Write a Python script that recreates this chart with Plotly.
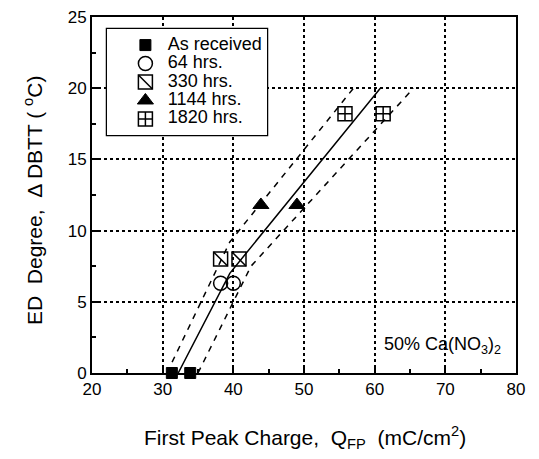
import plotly.graph_objects as go

# Data
as_x = [31.3, 33.9]; as_y = [0, 0]
h64_x = [38.2, 40.0]; h64_y = [6.3, 6.3]
h330_x = [38.2, 40.8]; h330_y = [8.0, 8.0]
h1144_x = [43.9, 49.0]; h1144_y = [11.8, 11.8]
h1820_x = [55.8, 61.2]; h1820_y = [18.2, 18.2]

fit_x = [32.2, 39.5, 60.8]; fit_y = [0, 7, 20]
lo_x = [30.6, 39.5, 57.0]; lo_y = [0, 9.2, 20]
hi_x = [35.0, 42.5, 65.5]; hi_y = [0, 7.5, 20]

legend_labels = ["As received", "64 hrs.", "330 hrs.", "1144 hrs.", "1820 hrs."]
x_title = "First Peak Charge,  Q<sub>FP</sub>  (mC/cm<sup>2</sup>)"
y_title = "ED  Degree,  \u0394 DBTT ( <sup>o</sup>C)"
note = "50% Ca(NO<sub>3</sub>)<sub>2</sub>"

FONT = "Liberation Sans, Arial, Helvetica, sans-serif"

fig = go.Figure()

# fit lines
fig.add_trace(go.Scatter(x=fit_x, y=fit_y, mode="lines", line=dict(color="black", width=1.5), showlegend=False))
for lx, ly in [(lo_x, lo_y), (hi_x, hi_y)]:
    fig.add_trace(go.Scatter(x=lx, y=ly, mode="lines",
                             line=dict(color="black", width=1.5, dash="6px,6px"), showlegend=False))

styles = [
    dict(symbol="square", size=11, color="black", line=dict(color="black", width=1)),
    dict(symbol="circle-open", size=14, color="black", line=dict(color="black", width=1.5)),
    dict(symbol="square-open", size=14, color="black", line=dict(color="black", width=1.5)),
    dict(symbol="triangle-up", size=14, color="black", line=dict(color="black", width=1)),
    dict(symbol="square-cross-open", size=14, color="black", line=dict(color="black", width=1.5)),
]
series = [(as_x, as_y), (h64_x, h64_y), (h330_x, h330_y), (h1144_x, h1144_y), (h1820_x, h1820_y)]

for (sx, sy), st, name in zip(series, styles, legend_labels):
    fig.add_trace(go.Scatter(x=sx, y=sy, mode="markers", marker=st, name=name,
                             cliponaxis=False, showlegend=False))
# diagonal for 330 hrs
fig.add_trace(go.Scatter(x=h330_x, y=h330_y, mode="markers", cliponaxis=False, showlegend=False,
                         marker=dict(symbol="line-nw", size=14, line=dict(color="black", width=1.5))))

# custom legend on inset axes
rows = list(range(len(legend_labels)))
for i, st in enumerate(styles):
    fig.add_trace(go.Scatter(x=[0.24], y=[rows[i]], mode="markers", marker=st,
                             xaxis="x2", yaxis="y2", showlegend=False, cliponaxis=False))
fig.add_trace(go.Scatter(x=[0.24], y=[rows[2]], mode="markers", xaxis="x2", yaxis="y2",
                         showlegend=False, cliponaxis=False,
                         marker=dict(symbol="line-nw", size=14, line=dict(color="black", width=1.5))))
fig.add_trace(go.Scatter(x=[0.38] * len(rows), y=rows, mode="text", text=legend_labels,
                         textposition="middle right", textfont=dict(family=FONT, size=18, color="black"),
                         xaxis="x2", yaxis="y2", showlegend=False, cliponaxis=False))

# page has an 8px body margin; work in window pixels and offset
OFF = 8
W, H = 539 - OFF, 459 - OFF
PX0, PX1, PY0, PY1 = 92 - OFF, 516 - OFF, 17 - OFF, 373 - OFF
L, R, T, B = PX0, W - PX1, PY0, H - PY1
pw, ph = PX1 - PX0, PY1 - PY0

def px(x):
    return (x - OFF - PX0) / pw

def py(y):
    return (PY1 - (y - OFF)) / ph

bx0, bx1, by0, by1 = 107, 267, 29, 135
dx0, dx1 = px(bx0), px(bx1)
dy0, dy1 = py(by1), py(by0)

fig.add_shape(type="rect", xref="paper", yref="paper", x0=dx0, x1=dx1, y0=dy0, y1=dy1,
              line=dict(color="black", width=2.5), fillcolor="white", layer="between")

fig.add_annotation(x=px(503), y=py(345), xref="paper", yref="paper",
                   xanchor="right", yanchor="middle", text=note, showarrow=False,
                   font=dict(family=FONT, size=18, color="black"))
fig.add_annotation(x=px(305), y=py(437), xref="paper", yref="paper",
                   xanchor="center", yanchor="middle", text=x_title, showarrow=False,
                   font=dict(family=FONT, size=21, color="black"))
fig.add_annotation(x=px(33), y=py(201), xref="paper", yref="paper",
                   xanchor="center", yanchor="middle", text=y_title, showarrow=False, textangle=-90,
                   font=dict(family=FONT, size=21, color="black"))

axis_common = dict(showline=True, mirror=True, linewidth=2, linecolor="black",
                   showgrid=True, gridcolor="black", griddash="dot", gridwidth=1.5,
                   zeroline=False, ticks="inside", ticklen=6, tickwidth=1.5, tickcolor="black",
                   automargin=False, ticklabeloverflow="allow",
                   tickfont=dict(family=FONT, size=17, color="black"))

fig.update_layout(
    width=W, height=H,
    margin=dict(l=L, r=R, t=T, b=B, autoexpand=False),
    plot_bgcolor="white", paper_bgcolor="white",
    showlegend=False,
    font=dict(family=FONT, color="black"),
    xaxis=dict(range=[20, 80], dtick=10, **axis_common,
               minor=dict(dtick=5, ticks="inside", ticklen=4, tickcolor="black", showgrid=False)),
    yaxis=dict(range=[0, 25], dtick=5, **axis_common,
               minor=dict(dtick=2.5, ticks="inside", ticklen=4, tickcolor="black", showgrid=False)),
    xaxis2=dict(domain=[dx0, dx1], range=[0, 1], visible=False, anchor="y2"),
    yaxis2=dict(domain=[dy0, dy1], range=[4.87, -0.87], visible=False, anchor="x2"),
)

fig.write_html("out.html")
